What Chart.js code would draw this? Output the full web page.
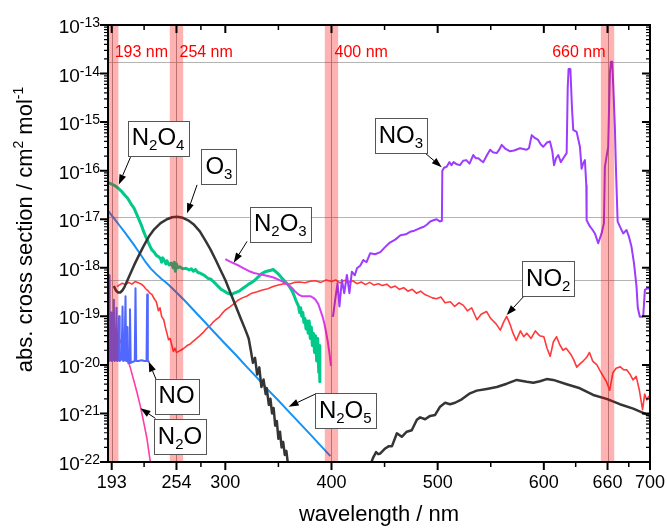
<!DOCTYPE html>
<html>
<head>
<meta charset="utf-8">
<script src="https://cdn.jsdelivr.net/npm/chart.js@4.4.0/dist/chart.umd.min.js"></script>
<style>body{margin:0;background:#fff}</style>
</head>
<body>
<canvas id="spectra" width="667" height="530"></canvas>
<script>
// ---- data (wavelength in nm, absorption cross section in cm^2 per molecule) ----
const o3HartleyWl = [195,197,199,201,203,205,210,214,218,223,
    228,233,239,245,250,254.5,260,265,270,276,
    281,286,291,296,300,305,310,315,319,322,
    324,326,328,330,332,334,336,338,339,341,
    342.5,344,345.5,347,348.5,350,351.5,353,354.5,356,
    357.5,359,361];
const o3HartleyVal = [4.2e-19,3.4e-19,3.1e-19,3.1e-19,3.4e-19,4.0e-19,7.1e-19,1.12e-18,1.7e-18,2.8e-18,
    4.4e-18,6.2e-18,8.3e-18,1.0e-17,1.1e-17,1.12e-17,1.07e-17,9.5e-18,7.9e-18,5.6e-18,
    3.7e-18,2.4e-18,1.45e-18,8.5e-19,5.6e-19,3.0e-19,1.6e-19,8.5e-20,5.2e-20,3.5e-20,
    2.0e-20,1.1e-20,1.4e-20,6.3e-21,8.9e-21,3.5e-21,5.0e-21,2.5e-21,3.3e-21,1.5e-21,
    2.0e-21,1.0e-21,1.3e-21,5.6e-22,7.0e-22,3.0e-22,4.2e-22,2.0e-22,2.6e-22,1.4e-22,
    1.7e-22,9e-23,6e-23];

const o3ChappuisWl = [437,439,442,444,446,450.6,453.7,456.9,461.6,466.2,
    470.9,475.6,480.4,483.5,488.2,492.9,497.6,502.3,507,511.7,
    516.4,522.7,530.5,536.8,546.2,555.7,565.1,574.5,583.9,590.1,
    596.4,602.7,608.9,621.5,634,646.5,659.1,671.6,684.2,700];
const o3ChappuisVal = [9e-23,1.2e-22,1.6e-22,1.45e-22,1.5e-22,1.9e-22,2.1e-22,2.1e-22,3.9e-22,3.3e-22,
    4.2e-22,4.5e-22,7.4e-22,8.3e-22,7.6e-22,8.9e-22,9.3e-22,1.38e-21,1.66e-21,1.55e-21,
    1.66e-21,1.95e-21,2.6e-21,2.95e-21,3.2e-21,3.5e-21,4.1e-21,4.9e-21,4.5e-21,4.3e-21,
    4.6e-21,5.1e-21,4.9e-21,4.0e-21,3.3e-21,2.4e-21,2.0e-21,1.55e-21,1.26e-21,8.9e-22];

const n2o4Wl = [190,193,196,199,202,205,208,211,214,217,
    219,221,223,225,227,229,231,233,235,237,
    239,240,241,243,244,245,247,249,251,252,
    253,254,255,257,260,263,266,268,270,272,
    274,276,278,280,282,284,286,288,290,292,
    294,296,298,300,302,304,306,308,310,313,
    316,319,322,325,328,331,334,337,340,343,
    345,347,349,351,353,355,357,359,361,363,
    365,367,369,370,371,372,373,374,375,376,
    377,378,379,380,381,382,383,384,385,386,
    387,388,388.5,389];
const n2o4Val = [5.6e-17,5.3e-17,4.9e-17,4.4e-17,3.8e-17,3.2e-17,2.7e-17,2.1e-17,1.7e-17,1.2e-17,
    9.5e-18,7.5e-18,5.6e-18,4.4e-18,3.5e-18,2.8e-18,2.3e-18,2.1e-18,1.8e-18,1.7e-18,
    1.55e-18,1.3e-18,1.6e-18,1.35e-18,1.2e-18,1.4e-18,1.15e-18,1.25e-18,1.0e-18,1.3e-18,
    8.5e-19,1.2e-18,1.0e-18,1.05e-18,9.5e-19,9.8e-19,9.0e-19,9.5e-19,8.5e-19,9.2e-19,
    8.0e-19,7.8e-19,7.4e-19,7.0e-19,6.5e-19,6.0e-19,5.9e-19,5.4e-19,4.9e-19,4.4e-19,
    4.0e-19,3.6e-19,3.4e-19,3.2e-19,3.0e-19,2.9e-19,2.8e-19,3.0e-19,3.1e-19,3.3e-19,
    3.7e-19,4.1e-19,4.6e-19,5.0e-19,5.6e-19,6.5e-19,7.5e-19,8.2e-19,8.6e-19,8.9e-19,
    9.2e-19,8.5e-19,7.8e-19,7.0e-19,6.2e-19,5.6e-19,5.0e-19,4.5e-19,3.9e-19,3.3e-19,
    2.6e-19,2.0e-19,1.6e-19,1.2e-19,1.5e-19,1.0e-19,1.2e-19,7.5e-20,9.0e-20,5.5e-20,
    8.0e-20,4.5e-20,8.0e-20,3.5e-20,6.0e-20,2.5e-20,4.5e-20,1.8e-20,4.0e-20,1.2e-20,
    3.5e-20,7.0e-21,2.5e-20,4.5e-21];

const n2o5Wl = [190,195,200,205,210,215,220,225,230,235,
    240,245,250,255,261,270,280,290,300,310,
    320,330,340,350,360,370,380,390,399];
const n2o5Val = [1.45e-17,1.05e-17,7.6e-18,5.5e-18,3.9e-18,2.75e-18,1.9e-18,1.3e-18,9.5e-19,7.4e-19,
    5.9e-19,4.8e-19,3.8e-19,2.95e-19,2.2e-19,1.35e-19,7.9e-20,4.6e-20,2.7e-20,1.6e-20,
    9.2e-21,5.4e-21,3.1e-21,1.85e-21,1.08e-21,6.3e-22,3.7e-22,2.15e-22,1.32e-22];

const no2Wl = [198,200,203,206,209,212,215,218,221,223,
    225,227,229,231,233,235,237,238.5,240,242,
    243.5,245,246.5,248,249.5,251,252.5,254,256,258,
    261,264,267,270,273,276,279,282,285,288,
    291,294,297,300,304,308,312,316,320,325,
    330,335,340,345,350,355,360,365,370,375,
    380,385,390,395,400,404,408,412,416,420,
    424,428,432,436,440,444,448,452,456,460,
    464,468,472,476,480,484,488,490,495,499,
    503,507,512,516,520,524,528,532,537,541,
    546,550,555,559,562,565,568,571,574,578,
    581,584,588,592,596,600,603,606,609,612,
    615,618,621,625,628,631,634,637,640,643,
    646,650,653,656,659,662,665,668,672,675,
    678,681,684,687,690,693,695,697,699];
const no2Val = [4.1e-19,4.4e-19,4.8e-19,4.5e-19,5.0e-19,4.6e-19,5.2e-19,4.9e-19,4.6e-19,4.2e-19,
    3.7e-19,3.4e-19,3.0e-19,2.8e-19,2.3e-19,2.0e-19,1.3e-19,1.5e-19,1.0e-19,8.5e-20,
    6.0e-20,4.5e-20,3.3e-20,3.5e-20,2.6e-20,1.9e-20,2.2e-20,1.8e-20,1.9e-20,2.0e-20,
    2.2e-20,2.5e-20,2.7e-20,3.1e-20,3.5e-20,4.0e-20,4.6e-20,5.5e-20,6.2e-20,7.4e-20,
    8.5e-20,9.5e-20,1.15e-19,1.35e-19,1.55e-19,1.8e-19,2.15e-19,2.4e-19,2.6e-19,3.0e-19,
    3.2e-19,3.5e-19,3.7e-19,4.1e-19,4.4e-19,4.7e-19,4.6e-19,5.0e-19,5.1e-19,4.9e-19,
    5.3e-19,5.4e-19,5.0e-19,5.6e-19,5.2e-19,5.6e-19,4.9e-19,5.5e-19,5.0e-19,5.4e-19,
    4.7e-19,5.1e-19,4.5e-19,5.0e-19,4.4e-19,4.7e-19,4.3e-19,4.6e-19,3.9e-19,4.2e-19,
    3.6e-19,3.9e-19,3.3e-19,3.6e-19,3.0e-19,3.3e-19,2.8e-19,2.7e-19,2.4e-19,2.3e-19,
    2.5e-19,1.9e-19,2.0e-19,1.6e-19,1.9e-19,1.7e-19,1.3e-19,1.5e-19,8.5e-20,1.1e-19,
    1.26e-19,9.0e-20,7.0e-20,5.2e-20,7.5e-20,1.0e-19,7.0e-20,4.5e-20,3.2e-20,5.0e-20,
    3.8e-20,4.5e-20,3.5e-20,5.0e-20,4.0e-20,3.8e-20,2.2e-20,1.5e-20,3.0e-20,3.8e-20,
    2.6e-20,2.0e-20,2.2e-20,1.7e-20,1.3e-20,9.0e-21,1.05e-20,1.2e-20,1.4e-20,1.8e-20,
    1.2e-20,1.0e-20,7.5e-21,5.8e-21,4.5e-21,3.0e-21,6.8e-21,8.5e-21,9.1e-21,8.0e-21,
    7.9e-21,6.5e-21,4.9e-21,5.8e-21,3.0e-21,1.2e-21,2.5e-21,1.9e-21,2.3e-21];

const no3Wl = [401.4,403.5,405.7,407.5,409.8,412,414.5,416.9,419.2,422,
    424,427,430,433,436.5,441,446,450,455,460,
    465,470,474,478,483,487,490,493,496,499,
    502,504,504.4,506,508.5,511,513,515,518,521,
    524,527,530,533.6,536,538.3,541,543,546,549.4,
    552,555.6,558,560.3,564,568.2,572,577.6,583.8,586,
    588.6,591,594.7,597,599.4,603,605.8,608,609.6,611.5,
    613.6,616,618.3,621.5,622.5,623.3,625,626.5,627.7,630.9,
    634,635.6,637,638.7,640,640.3,643.4,646,648.1,651.2,
    654.4,656.6,657.5,660.6,662.2,663.2,664.4,665.5,666.9,668,
    669.5,671.6,674.7,677.9,680,682.6,685,687.3,688.5,690.4,
    692,693.6,695.2,698,700.5];
const no3Val = [9.8e-20,2.2e-19,4.8e-19,1.6e-19,5.6e-19,3.0e-19,7.1e-19,3.0e-19,8.3e-19,7.0e-19,
    9.8e-19,1.1e-18,1.45e-18,1.3e-18,2.0e-18,1.9e-18,2.1e-18,2.6e-18,3.3e-18,3.8e-18,
    4.7e-18,4.9e-18,5.5e-18,5.8e-18,6.5e-18,7.0e-18,7.8e-18,9.0e-18,9.5e-18,1.0e-17,
    9.0e-18,9.3e-18,1.0e-16,1.15e-16,1.2e-16,1.5e-16,1.3e-16,1.5e-16,1.35e-16,1.3e-16,
    1.6e-16,1.65e-16,1.4e-16,2.1e-16,1.8e-16,1.8e-16,1.6e-16,1.5e-16,2.0e-16,2.7e-16,
    2.4e-16,2.3e-16,2.7e-16,3.4e-16,2.8e-16,2.5e-16,2.6e-16,2.9e-16,2.7e-16,2.9e-16,
    5.4e-16,4.8e-16,4.3e-16,3.5e-16,3.1e-16,3.8e-16,4.0e-16,2.5e-16,1.3e-16,1.8e-16,
    2.1e-16,1.5e-16,1.8e-16,2.3e-16,5.0e-15,1.24e-14,1.24e-14,2.0e-15,6.9e-16,6.3e-16,
    3.1e-16,1.1e-16,1.4e-16,1.65e-16,5.0e-17,9.5e-18,7.1e-18,6.0e-18,5.1e-18,3.2e-18,
    5.1e-18,8.3e-18,1.2e-16,3.1e-16,1.0e-14,1.75e-14,1.75e-14,5.0e-15,8.1e-16,1.0e-16,
    9.0e-18,7.1e-18,5.1e-18,6.0e-18,4.5e-18,2.7e-18,1.2e-18,4.1e-19,1.5e-19,9.8e-20,
    9.8e-20,1.0e-19,3.5e-19,3.8e-19,3.6e-19];

const n2o3Wl = [300,304,308,313,317,322,327,332,336,341,
    345.5,350,355,359,363,366,369,372,376,380,
    383,385,387.5,389.5,391.5,393.2,395,396.5,398,399.5];
const n2o3Val = [1.5e-18,1.35e-18,1.23e-18,1.1e-18,9.8e-19,8.6e-19,7.8e-19,7.4e-19,7.1e-19,6.7e-19,
    6.3e-19,5.7e-19,5.1e-19,4.5e-19,3.8e-19,3.2e-19,2.8e-19,2.6e-19,2.6e-19,2.6e-19,
    2.4e-19,2.2e-19,1.8e-19,1.35e-19,1.0e-19,7.2e-20,4.6e-20,3.0e-20,1.8e-20,9.5e-21];

const noWl = [190,190.5,191,192,192.6,193.2,194.3,195,195.6,196.8,
    197.5,198.1,199.3,199.9,200.5,202.3,203.2,203.8,204.8,205.4,
    206,206.6,207.4,207.9,208.5,209.4,210.2,210.9,212.5,214.7,
    215.4,216.1,218,221,224,225.8,226.4,227,228.5];
const noVal = [1.3e-20,7.0e-19,1.2e-20,1.3e-20,1.2e-19,1.2e-20,1.3e-20,2.2e-19,1.2e-20,1.3e-20,
    1.5e-19,1.2e-20,1.25e-20,1.0e-19,1.2e-20,1.3e-20,1.6e-19,1.2e-20,1.25e-20,4.5e-20,
    2.6e-19,1.2e-20,1.2e-20,6.0e-20,1.1e-20,1.1e-20,1.4e-19,1.1e-20,1.15e-20,1.2e-20,
    3.8e-19,1.2e-20,1.2e-20,1.25e-20,1.2e-20,1.2e-20,2.8e-19,1.2e-20,1.15e-20];

const n2oWl = [190,193,196,199,202,205,208,211,214,217,220,223,226,229,231];
const n2oVal = [1.05e-19,8.0e-20,5.8e-20,4.0e-20,2.8e-20,1.9e-20,1.3e-20,8.0e-21,4.6e-21,2.6e-21,
    1.4e-21,6.8e-22,3.2e-22,1.15e-22,6e-23];

// axis ticks
const xTickValues = [193, 254, 300, 400, 500, 600, 660, 700];
const xMinorTicks = [223.5, 277, 350, 450, 550, 630, 680];
const yTickExponents = [-22, -21, -20, -19, -18, -17, -16, -15, -14, -13];

// laser lines and horizontal reference levels
const laserLines = [193, 254, 400, 660];
const laserLabels = ['193 nm', '254 nm', '400 nm', '660 nm'];
const refLevels = [1.75e-14, 1.12e-17, 5.5e-19];

const FONT = '"Liberation Sans", Arial, sans-serif';

// callouts: box centre and arrow given in data coordinates
const callouts = [
    {text: 'N2O4', bx: 236.7, by: 4.6e-16, fx: 210.7, fy: 1.9e-16, tx: 199.7, ty: 5.2e-17},
    {text: 'O3', bx: 294, by: 1.2e-16, fx: 273.4, fy: 5.1e-17, tx: 264.0, ty: 1.32e-17},
    {text: 'N2O3', bx: 351.8, by: 7.9e-18, fx: 320.5, fy: 3.5e-18, tx: 307.9, ty: 1.27e-18},
    {text: 'NO3', bx: 465.4, by: 5.25e-16, fx: 488.2, fy: 2.3e-16, tx: 503.8, ty: 1.18e-16},
    {text: 'NO2', bx: 604.2, by: 6.0e-19, fx: 581.3, fy: 2.6e-19, tx: 565.0, ty: 1.07e-19},
    {text: 'NO', bx: 254.1, by: 2.24e-21, fx: 235.7, fy: 4.5e-21, tx: 227.8, ty: 1.17e-20},
    {text: 'N2O', bx: 257.3, by: 3.3e-22, fx: 234.2, fy: 7.9e-22, tx: 220.1, ty: 1.28e-21},
    {text: 'N2O5', bx: 413, by: 1.13e-21, fx: 386.3, fy: 2.6e-21, tx: 359.6, ty: 1.38e-21}
];

function pts(wl, val) {
    return wl.map((w, i) => ({x: w, y: val[i]}));
}

function line(label, wl, val, color, width) {
    return {
        label: label,
        data: pts(wl, val),
        borderColor: color,
        borderWidth: width,
        pointRadius: 0,
        tension: 0,
        borderJoinStyle: 'round',
        clip: 0
    };
}

// text with sub/superscripts: parts = [{t, size, dy}]
function drawParts(ctx, parts, x, y, align) {
    let w = 0;
    parts.forEach(p => { ctx.font = p.size + 'px ' + FONT; w += ctx.measureText(p.t).width; });
    let cx = align === 'right' ? x - w : (align === 'center' ? x - w / 2 : x);
    ctx.textAlign = 'left';
    ctx.textBaseline = 'alphabetic';
    parts.forEach(p => {
        ctx.font = p.size + 'px ' + FONT;
        ctx.fillText(p.t, cx, y + (p.dy || 0));
        cx += ctx.measureText(p.t).width;
    });
    return w;
}

function chemParts(formula, size) {
    return formula.split(/(\d+)/).filter(s => s).map(s =>
        /\d/.test(s) ? {t: s, size: Math.round(size * 0.64), dy: 5} : {t: s, size: size});
}

function measureParts(ctx, parts) {
    let w = 0;
    parts.forEach(p => { ctx.font = p.size + 'px ' + FONT; w += ctx.measureText(p.t).width; });
    return w;
}

const decorations = {
    id: 'decorations',
    beforeDatasetsDraw(chart) {
        const ctx = chart.ctx, a = chart.chartArea;
        const xs = chart.scales.x, ys = chart.scales.y;
        ctx.save();
        ctx.lineWidth = 1;
        ctx.strokeStyle = '#b4b4b4';
        refLevels.forEach(v => {
            const y = Math.round(ys.getPixelForValue(v)) + 0.5;
            ctx.beginPath(); ctx.moveTo(a.left, y); ctx.lineTo(a.right, y); ctx.stroke();
        });
        ctx.strokeStyle = '#a0a0a0';
        laserLines.forEach(w => {
            const x = Math.round(xs.getPixelForValue(w)) + 0.5;
            ctx.beginPath(); ctx.moveTo(x, a.top); ctx.lineTo(x, a.bottom); ctx.stroke();
        });
        ctx.restore();
    },
    afterDatasetsDraw(chart) {
        const ctx = chart.ctx, a = chart.chartArea;
        const xs = chart.scales.x, ys = chart.scales.y;
        ctx.save();

        // laser bands
        ctx.fillStyle = 'rgba(255,0,0,0.3)';
        laserLines.forEach(w => {
            const x0 = Math.max(a.left, xs.getPixelForValue(w - 6.3));
            const x1 = Math.min(a.right, xs.getPixelForValue(w + 6.3));
            ctx.fillRect(x0, a.top, x1 - x0, a.bottom - a.top);
        });
        ctx.fillStyle = '#ff0000';
        ctx.font = '16px ' + FONT;
        ctx.textBaseline = 'alphabetic';
        const labelY = ys.getPixelForValue(2.2e-14);
        laserLines.forEach((w, i) => {
            const x = xs.getPixelForValue(w);
            if (i === laserLines.length - 1) {
                ctx.textAlign = 'right';
                ctx.fillText(laserLabels[i], x - 2, labelY);
            } else {
                ctx.textAlign = 'left';
                ctx.fillText(laserLabels[i], x + 3, labelY);
            }
        });

        // callouts
        callouts.forEach(c => {
            const parts = chemParts(c.text, 24);
            const tw = measureParts(ctx, parts);
            const cx = xs.getPixelForValue(c.bx), cy = ys.getPixelForValue(c.by);
            const bw = tw + 8, bh = 35;
            const fx = xs.getPixelForValue(c.fx), fy = ys.getPixelForValue(c.fy);
            const tx = xs.getPixelForValue(c.tx), ty = ys.getPixelForValue(c.ty);
            // arrow
            const ang = Math.atan2(ty - fy, tx - fx);
            const hl = 10, hw = 3.5;
            const bx = tx - hl * Math.cos(ang), by = ty - hl * Math.sin(ang);
            ctx.strokeStyle = '#000';
            ctx.lineWidth = 1;
            ctx.beginPath(); ctx.moveTo(fx, fy); ctx.lineTo(bx, by); ctx.stroke();
            ctx.fillStyle = '#000';
            ctx.beginPath();
            ctx.moveTo(tx, ty);
            ctx.lineTo(bx + hw * Math.sin(ang), by - hw * Math.cos(ang));
            ctx.lineTo(bx - hw * Math.sin(ang), by + hw * Math.cos(ang));
            ctx.closePath(); ctx.fill();
            // box
            ctx.fillStyle = '#fff';
            ctx.fillRect(cx - bw / 2, cy - bh / 2, bw, bh);
            ctx.strokeStyle = '#555';
            ctx.strokeRect(Math.round(cx - bw / 2) + 0.5, Math.round(cy - bh / 2) + 0.5, Math.round(bw), bh);
            ctx.fillStyle = '#000';
            drawParts(ctx, parts, cx, cy + 7, 'center');
        });

        // frame
        ctx.strokeStyle = '#000';
        ctx.lineWidth = 2;
        ctx.strokeRect(a.left, a.top, a.right - a.left, a.bottom - a.top);

        // x ticks (bottom outward, top inward)
        const tickX = (v, len) => {
            const x = xs.getPixelForValue(v);
            ctx.beginPath();
            ctx.moveTo(x, a.bottom); ctx.lineTo(x, a.bottom + len);
            ctx.moveTo(x, a.top); ctx.lineTo(x, a.top + len);
            ctx.stroke();
        };
        ctx.lineWidth = 2;
        xTickValues.forEach(v => tickX(v, 8));
        ctx.lineWidth = 1.5;
        xMinorTicks.forEach(v => tickX(v, 5));

        // y ticks (left outward, right inward)
        const tickY = (v, len) => {
            const y = ys.getPixelForValue(v);
            ctx.beginPath();
            ctx.moveTo(a.left, y); ctx.lineTo(a.left - len, y);
            ctx.moveTo(a.right, y); ctx.lineTo(a.right - len, y);
            ctx.stroke();
        };
        ctx.lineWidth = 2;
        yTickExponents.forEach(e => tickY(Math.pow(10, e), 8));
        ctx.lineWidth = 1.2;
        yTickExponents.slice(0, -1).forEach(e => {
            for (let k = 2; k <= 9; k++) tickY(k * Math.pow(10, e), 4);
        });

        // tick labels
        ctx.fillStyle = '#000';
        ctx.font = '18px ' + FONT;
        ctx.textAlign = 'center';
        ctx.textBaseline = 'alphabetic';
        xTickValues.forEach(v => ctx.fillText(String(v), xs.getPixelForValue(v), a.bottom + 26));
        yTickExponents.forEach(e => {
            const y = ys.getPixelForValue(Math.pow(10, e));
            drawParts(ctx, [{t: '10', size: 19}, {t: String(e), size: 14, dy: -6}], a.left - 8, y + 8, 'right');
        });

        // axis titles
        ctx.font = '22px ' + FONT;
        ctx.textAlign = 'center';
        ctx.fillText('wavelength / nm', (a.left + a.right) / 2, a.bottom + 59);
        ctx.save();
        ctx.translate(32, (a.top + a.bottom) / 2 - 14);
        ctx.rotate(-Math.PI / 2);
        drawParts(ctx, [
            {t: 'abs. cross section / cm', size: 22},
            {t: '2', size: 14, dy: -9},
            {t: ' mol', size: 22},
            {t: '-1', size: 14, dy: -9}
        ], 0, 0, 'center');
        ctx.restore();

        ctx.restore();
    }
};

new Chart(document.getElementById('spectra'), {
    type: 'line',
    data: {
        datasets: [
            line('O3', o3HartleyWl, o3HartleyVal, '#353535', 2.5),
            line('O3 Chappuis', o3ChappuisWl, o3ChappuisVal, '#353535', 2.5),
            line('N2O5', n2o5Wl, n2o5Val, '#1592f5', 2),
            line('N2O3', n2o3Wl, n2o3Val, '#d63cf0', 2),
            line('N2O4', n2o4Wl, n2o4Val, '#00c98a', 3),
            line('NO3', no3Wl, no3Val, '#9d3cff', 2),
            line('NO2', no2Wl, no2Val, '#ff3a3a', 1.6),
            line('NO', noWl, noVal, '#5068ff', 2),
            line('N2O', n2oWl, n2oVal, '#ff3ca8', 1.6)
        ]
    },
    options: {
        responsive: false,
        animation: false,
        layout: {padding: {left: 108, right: 17, top: 25, bottom: 68}},
        plugins: {legend: {display: false}, tooltip: {enabled: false}},
        scales: {
            x: {type: 'linear', min: 189.5, max: 700, display: false},
            y: {type: 'logarithmic', min: 1e-22, max: 1e-13, display: false}
        }
    },
    plugins: [decorations]
});
</script>
</body>
</html>
